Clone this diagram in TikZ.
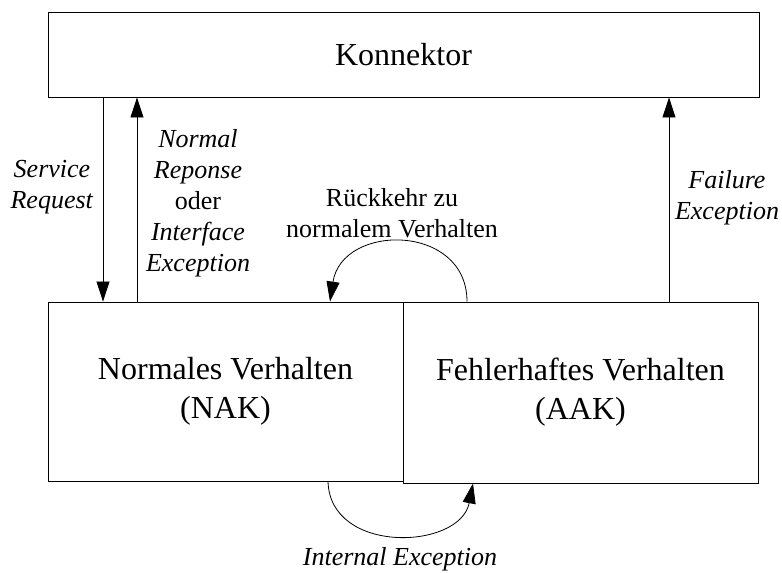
\documentclass[tikz,border=0pt]{standalone}
\usepackage{fontspec}
\setmainfont{Liberation Serif}
\usetikzlibrary{arrows.meta}
\begin{document}
\begin{tikzpicture}[x=1pt,y=-1pt,
  box/.style={draw, line width=0.9pt, inner sep=0pt, align=center,
    font=\fontsize{32}{39}\selectfont},
  lbl/.style={align=center, inner sep=0pt, font=\fontsize{26}{31}\selectfont},
  flow/.style={line width=0.8pt, -{Triangle[length=20pt,width=13pt]}},
]
\useasboundingbox (0,0) rectangle (782,573);

% boxes
\node[box, minimum width=711pt, minimum height=85pt] (kon) at (403.5,54.5) {Konnektor};
\node[box, minimum width=355pt, minimum height=179pt] (nak) at (225.5,391.5)
  {Normales Verhalten\\(NAK)};
\node[box, minimum width=355pt, minimum height=181pt] (aak) at (580.5,392.5)
  {Fehlerhaftes Verhalten\\(AAK)};

% x positions of the vertical connectors and the loop ends
\coordinate (xsr) at (103,0);
\coordinate (xnr) at (137,0);
\coordinate (xfe) at (669,0);
\coordinate (rs) at (467,0);
\coordinate (re) at (330,0);
\coordinate (is) at (328,0);
\coordinate (ie) at (473,0);

% vertical connectors
\draw[flow] (kon.south -| xsr) -- (nak.north -| xsr);
\draw[flow] (nak.north -| xnr) -- (kon.south -| xnr);
\draw[flow] (aak.north -| xfe) -- (kon.south -| xfe);

% loops between the two behaviours
\draw[flow] (aak.north -| rs) .. controls (467,223) and (342,223) .. (nak.north -| re);
\draw[flow] (nak.south -| is) .. controls (330,555) and (460,550) .. (aak.south -| ie);

% labels
\node[lbl] (sreq) at (52,187.5) {\textit{Service}\\\textit{Request}};
\node[lbl] (nresp) at (198,203) {\textit{Normal}\\\textit{Reponse}\\oder\\\textit{Interface}\\\textit{Exception}};
\node[lbl] (ret) at (392,213) {Rückkehr zu\\normalem Verhalten};
\node[lbl] (fail) at (727,197.5) {\textit{Failure}\\\textit{Exception}};
\node[lbl] (intex) at (400,559) {\textit{Internal Exception}};
\end{tikzpicture}
\end{document}
